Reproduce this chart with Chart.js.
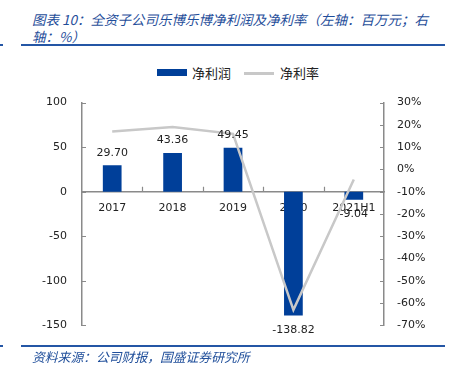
<!DOCTYPE html>
<html>
<head>
<meta charset="utf-8">
<script src="https://cdn.jsdelivr.net/npm/chart.js@4.4.1/dist/chart.umd.min.js"></script>
<style>
body { margin: 0; width: 454px; height: 375px; background: #fff; position: relative; overflow: hidden; font-family: "DejaVu Sans", sans-serif; }
.title { position: absolute; left: 32px; top: 11px; font: italic 13.5px "Noto Sans CJK SC", sans-serif; color: #1f4e9a; line-height: 17px; white-space: nowrap; }
.rule { position: absolute; left: 21px; width: 424px; height: 1.5px; background: #2456a5; }
.stub { position: absolute; left: 0; width: 3px; height: 1.5px; background: #2456a5; }
.source { position: absolute; left: 32px; top: 345px; font: italic 12.8px "Noto Sans CJK SC", sans-serif; color: #1f4e9a; white-space: nowrap; }
.legend { position: absolute; top: 64px; font: 13px "Noto Sans CJK SC", sans-serif; color: #222; line-height: 17px; }
.sw { position: absolute; }
#wrap { position: absolute; left: 0; top: 81px; width: 454px; height: 266px; }
</style>
</head>
<body>
<div class="title">图表 10：全资子公司乐博乐博净利润及净利率（左轴：百万元；右<br>轴：%）</div>
<div class="rule" style="top:44px"></div>
<div class="stub" style="top:44px"></div>
<div class="legend" style="left:157px"><span class="sw" style="left:0;top:5px;width:30px;height:7px;background:#003f99"></span><span style="margin-left:35px">净利润</span></div>
<div class="legend" style="left:244px"><span class="sw" style="left:0;top:8px;width:30px;height:2.5px;background:#c8c8c8"></span><span style="margin-left:36px">净利率</span></div>
<div id="wrap"><canvas id="profit-chart"></canvas></div>
<div class="rule" style="top:345px"></div>
<div class="stub" style="top:345px"></div>
<div class="source" style="top:347px">资料来源：公司财报，国盛证券研究所</div>
<script>
var years = ['2017', '2018', '2019', '2020', '2021H1'];
var netProfit = [29.70, 43.36, 49.45, -138.82, -9.04];
var netMargin = [17, 19, 16, -63, -4.5];
var profitTicks = [-150, -100, -50, 0, 50, 100];
var marginTicks = [-70, -60, -50, -40, -30, -20, -10, 0, 10, 20, 30];

var axisGrey = '#8a8a8a';
var tickFont = { family: 'DejaVu Sans', size: 11 };

// value labels above / below the bars
var barLabels = {
    id: 'barLabels',
    afterDatasetsDraw: function (chart) {
        var ctx = chart.ctx;
        var meta = chart.getDatasetMeta(0);
        ctx.save();
        ctx.font = '11px "DejaVu Sans"';
        ctx.fillStyle = '#222';
        ctx.textAlign = 'center';
        meta.data.forEach(function (bar, i) {
            var v = netProfit[i];
            if (v >= 0) {
                ctx.textBaseline = 'bottom';
                ctx.fillText(v.toFixed(2), bar.x, bar.y - 7);
            } else {
                ctx.textBaseline = 'top';
                ctx.fillText(v.toFixed(2), bar.x, bar.y + 9);
            }
        });
        ctx.restore();
    }
};

// small inward tick marks like the excel original
var innerTicks = {
    id: 'innerTicks',
    afterDraw: function (chart) {
        var ctx = chart.ctx;
        var y = chart.scales.y, y1 = chart.scales.y1, x = chart.scales.x;
        ctx.save();
        ctx.strokeStyle = axisGrey;
        ctx.lineWidth = 1.2;
        ctx.beginPath();
        profitTicks.forEach(function (t) {
            var p = Math.round(y.getPixelForValue(t)) + 0.5;
            ctx.moveTo(y.right, p); ctx.lineTo(y.right + 4, p);
        });
        marginTicks.forEach(function (t) {
            var p = Math.round(y1.getPixelForValue(t)) + 0.5;
            ctx.moveTo(y1.left - 4, p); ctx.lineTo(y1.left, p);
        });
        var zero = y.getPixelForValue(0);
        for (var i = 1; i < years.length; i++) {
            var px = Math.round((x.getPixelForValue(i - 1) + x.getPixelForValue(i)) / 2) + 0.5;
            ctx.moveTo(px, zero - 5); ctx.lineTo(px, zero);
        }
        ctx.stroke();
        ctx.restore();
    }
};

var profitContext = document.getElementById('profit-chart').getContext('2d');
var profitChart = new Chart(profitContext, {
    type: 'bar',
    data: {
        labels: years,
        datasets: [
            {
                label: '净利润',
                data: netProfit,
                backgroundColor: '#003f99',
                borderWidth: 0,
                barPercentage: 0.31,
                categoryPercentage: 1,
                yAxisID: 'y',
                order: 1
            },
            {
                label: '净利率',
                type: 'line',
                data: netMargin,
                borderColor: '#c8c8c8',
                borderWidth: 2.5,
                pointRadius: 0,
                tension: 0,
                yAxisID: 'y1',
                order: 0
            }]
    },
    options: {
        responsive: true,
        maintainAspectRatio: false,
        animation: false,
        layout: { padding: { left: 0, right: 0, top: 10, bottom: 10 } },
        plugins: { legend: { display: false }, tooltip: { enabled: false } },
        scales: {
            x: {
                position: { y: 0 },
                offset: true,
                grid: { display: false, drawTicks: false },
                border: { color: axisGrey, width: 1.5 },
                ticks: { font: tickFont, color: '#222', padding: 10, maxRotation: 0 }
            },
            y: {
                position: 'left',
                min: -150, max: 100,
                afterFit: function (s) { s.width = 82; },
                afterBuildTicks: function (s) { s.ticks = profitTicks.map(function (v) { return { value: v }; }); },
                grid: { display: false, drawTicks: false },
                border: { color: axisGrey, width: 1.5 },
                ticks: { font: tickFont, color: '#222', padding: 15 }
            },
            y1: {
                position: 'right',
                min: -70, max: 30,
                afterFit: function (s) { s.width = 70; },
                afterBuildTicks: function (s) { s.ticks = marginTicks.map(function (v) { return { value: v }; }); },
                grid: { display: false, drawTicks: false },
                border: { color: axisGrey, width: 1.5 },
                ticks: { font: tickFont, color: '#222', padding: 13, callback: function (v) { return v + '%'; } }
            }
        }
    },
    plugins: [barLabels, innerTicks]
});
</script>
</body>
</html>
